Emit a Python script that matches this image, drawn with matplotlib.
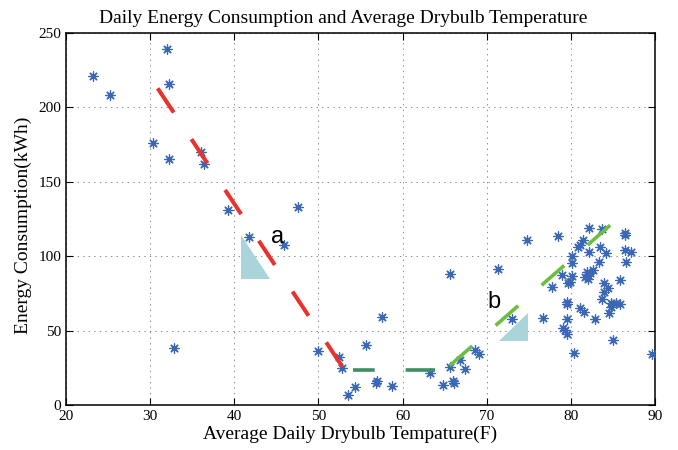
import matplotlib
matplotlib.use('Agg')
import matplotlib.pyplot as plt
import numpy as np

# daily average drybulb temperature (F) and energy consumption (kWh)
temp_left = [23.2, 25.2, 32.0, 32.3, 30.4, 32.2, 36.0, 36.4, 32.8, 39.3, 41.7, 47.6, 45.9]
kwh_left = [221, 208, 239, 216, 176, 165, 170, 162, 38, 131, 113, 133, 107.5]

temp_mid = [49.9, 52.4, 52.8, 55.6, 57.6, 53.5, 54.3, 56.9, 57.0, 58.8, 63.3, 64.8,
            66.1, 66.0, 65.6, 66.8, 67.4, 68.6, 69.1, 65.6]
kwh_mid = [36, 32.5, 24.6, 40, 59, 6.7, 12.3, 14.6, 15.8, 12.8, 21.7, 13.2,
           14.6, 16, 25.8, 30.5, 24, 37, 34.5, 88]

temp_right = [71.4, 74.8, 78.5, 73.0, 76.7, 80.4, 85.0, 89.6,
              82.2, 83.7, 86.4, 86.5, 81.5, 81.1, 80.9, 82.2, 83.5, 84.2, 86.4, 87.1,
              80.1, 80.2, 83.3, 86.6, 78.9, 80.1, 79.9, 79.7, 81.9, 82.1, 82.3, 81.7,
              82.6, 82.0, 85.8, 84.0, 84.4, 84.0, 83.7, 77.8, 79.6, 79.6, 81.1, 81.6,
              84.8, 85.4, 84.8, 85.9, 84.5, 82.9, 79.5, 79.1, 79.3, 79.5]
kwh_right = [91.6, 111, 113.6, 57.5, 58.2, 35.2, 43.7, 34.3,
             118.7, 118, 114.2, 115.8, 110.9, 107.5, 106.4, 102.6, 106.4, 101.9, 104.2, 102.6,
             100.1, 95.2, 96.3, 96.3, 87.4, 86.7, 82.9, 81.8, 89.6, 87.4, 88.5, 86.2,
             90.5, 84.8, 84.0, 82.2, 78.4, 76.2, 71.0, 79.1, 69.4, 67.9, 65.0, 62.7,
             68.3, 68.3, 65.6, 67.9, 61.6, 57.6, 57.6, 51.5, 50.4, 47.7]

temps = temp_left + temp_mid + temp_right
kwh = kwh_left + kwh_mid + kwh_right

# fitted trend segments
heat_x = [30.9, 52.9]
heat_y = [212.8, 25.3]
base_x = [54.1, 63.9]
base_y = [23.5, 23.5]
cool_x = [65.6, 84.8]
cool_y = [26.4, 121.4]

# slope triangles
tri_a_x = [40.8, 40.8, 44.3]
tri_a_y = [114.2, 84.5, 84.5]
tri_b_x = [71.5, 74.9, 74.9]
tri_b_y = [43.0, 43.0, 62.0]

plt.rcParams['lines.scale_dashes'] = False
serif = 'Liberation Serif'

fig = plt.figure(figsize=(6.78, 4.5), dpi=100)
ax = fig.add_axes([0.0973, 0.1, 0.8687, 0.8267])

ax.scatter(temps, kwh, marker=(8, 2, 0), s=45, color='#3a68b4', linewidths=0.9, zorder=3)

ax.fill(tri_a_x, tri_a_y, color='#a9d4d9', zorder=2, lw=0)
ax.fill(tri_b_x, tri_b_y, color='#a9d4d9', zorder=2, lw=0)

ax.plot(heat_x, heat_y, color='#e8322b', lw=2.9, dashes=(20.9, 23), dash_capstyle='butt', zorder=4)
ax.plot(base_x, base_y, color='#3f8f64', lw=2.6, linestyle=(6.0, (21.6, 22.3)),
        dash_capstyle='butt', zorder=4)
ax.plot(cool_x, cool_y, color='#6cbf3e', lw=2.6, dashes=(21.6, 22.4), zorder=4,
        dash_capstyle='butt')

ax.text(45.1, 113, 'a', fontsize=17, family='Liberation Sans', ha='center', va='center')
ax.text(70.9, 69, 'b', fontsize=17, family='Liberation Sans', ha='center', va='center')

ax.set_xlim(20, 90)
ax.set_ylim(0, 250)
ax.set_xticks(np.arange(20, 91, 10))
ax.set_yticks(np.arange(0, 251, 50))
ax.grid(True, linestyle=(0, (1, 3)), color='#8c8c8c', lw=0.7)
ax.tick_params(direction='in', top=True, right=True, length=5, labelsize=11)
for lab in ax.get_xticklabels() + ax.get_yticklabels():
    lab.set_family(serif)
for sp in ax.spines.values():
    sp.set_linewidth(1.1)

ax.set_title('Daily Energy Consumption and Average Drybulb Temperature',
             family=serif, fontsize=14, pad=7, x=0.471)
ax.set_xlabel('Average Daily Drybulb Tempature(F)', family=serif, fontsize=14, labelpad=1)
ax.xaxis.set_label_coords(0.483, -0.055)
ax.set_ylabel('Energy Consumption(kWh)', family=serif, fontsize=14, labelpad=3)
ax.yaxis.set_label_coords(-0.058, 0.484)

fig.savefig('out.png', dpi=100)
